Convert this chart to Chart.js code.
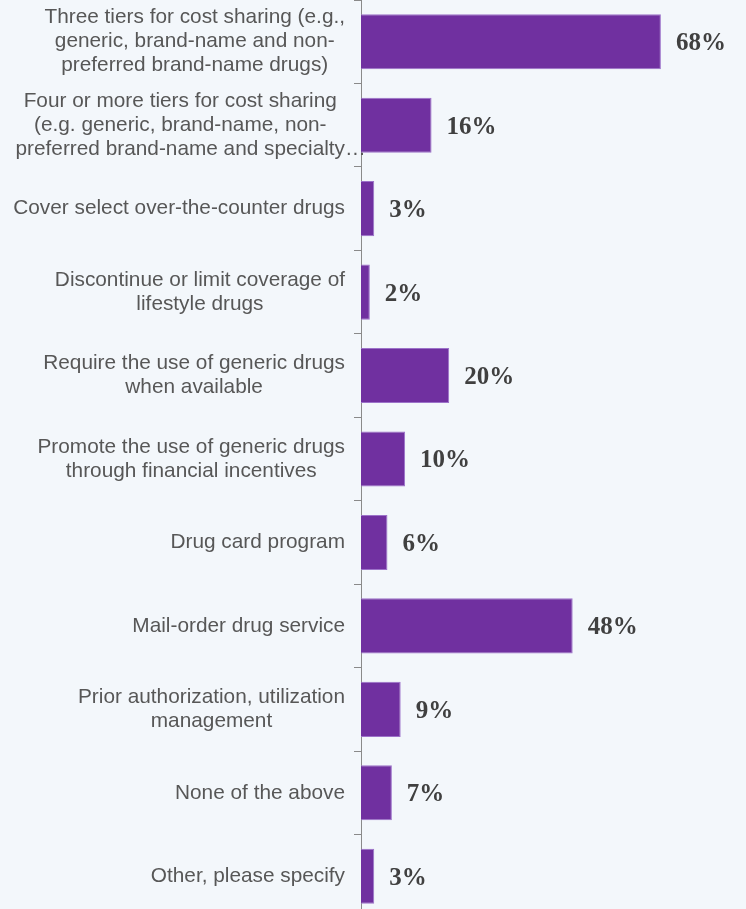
<!DOCTYPE html>
<html>
<head>
<meta charset="utf-8">
<script src="https://cdn.jsdelivr.net/npm/chart.js@4/dist/chart.umd.min.js"></script>
<style>
  html, body { margin: 0; padding: 0; background: #f3f7fb; overflow: hidden; }
  #wrap { position: relative; width: 746px; height: 918px; }
</style>
</head>
<body>
<div id="wrap"><canvas id="chart"></canvas></div>
<script>
// answer options, one array of lines per option
const categories = [
  ["Three tiers for cost sharing (e.g.,", "generic, brand-name and non-", "preferred brand-name drugs)"],
  ["Four or more tiers for cost sharing", "(e.g. generic, brand-name, non-", "preferred brand-name and specialty\u2026"],
  ["Cover select over-the-counter drugs"],
  ["Discontinue or limit coverage of", "lifestyle drugs"],
  ["Require the use of generic drugs", "when available"],
  ["Promote the use of generic drugs", "through financial incentives"],
  ["Drug card program"],
  ["Mail-order drug service"],
  ["Prior authorization, utilization", "management"],
  ["None of the above"],
  ["Other, please specify"]
];
const percents = [68, 16, 3, 2, 20, 10, 6, 48, 9, 7, 3];

const LABEL_FONT = '20.8px "Liberation Sans", Arial, sans-serif';
const LINE_H = 24;

// category labels: lines centred on each other, block right-aligned to the axis
const categoryLabels = {
  id: 'categoryLabels',
  afterDraw(chart) {
    const ctx = chart.ctx;
    const y = chart.scales.y;
    const right = y.right - 16;
    ctx.save();
    ctx.font = LABEL_FONT;
    ctx.fillStyle = '#575757';
    ctx.textBaseline = 'middle';
    categories.forEach((lines, i) => {
      const yc = y.getPixelForValue(i);
      const ell = '\u2026';
      const bare = lines.map(l => l.endsWith(ell) ? l.slice(0, -1) : l);
      const maxW = Math.max(...bare.map(l => ctx.measureText(l).width));
      const cx = right - maxW / 2;
      lines.forEach((line, j) => {
        const ly = yc + (j - (lines.length - 1) / 2) * LINE_H;
        ctx.textAlign = 'center';
        ctx.fillText(bare[j], cx, ly);
        if (line.endsWith(ell)) {
          ctx.textAlign = 'left';
          ctx.fillText(ell, cx + ctx.measureText(bare[j]).width / 2, ly);
        }
      });
    });
    ctx.restore();
  }
};

// percentage just past the end of each bar
const valueLabels = {
  id: 'valueLabels',
  afterDatasetsDraw(chart) {
    const ctx = chart.ctx;
    ctx.save();
    ctx.font = 'bold 25px "Liberation Serif", "Times New Roman", serif';
    ctx.fillStyle = '#404040';
    ctx.textAlign = 'left';
    ctx.textBaseline = 'middle';
    chart.getDatasetMeta(0).data.forEach((bar, i) => {
      ctx.fillText(percents[i] + '%', bar.x + 15, bar.y + 2);
    });
    ctx.restore();
  }
};

new Chart(document.getElementById('chart'), {
  type: 'bar',
  data: {
    labels: categories.map(c => c.join(' ')),
    datasets: [{
      data: percents,
      backgroundColor: '#7030a0',
      borderColor: '#9c72c9',
      borderWidth: 1,
      barPercentage: 0.66,
      categoryPercentage: 1
    }]
  },
  options: {
    indexAxis: 'y',
    responsive: true,
    maintainAspectRatio: false,
    animation: false,
    layout: { padding: 0 },
    plugins: {
      legend: { display: false },
      tooltip: { enabled: false }
    },
    scales: {
      x: {
        display: false,
        min: 0,
        max: 87.3
      },
      y: {
        afterFit: (scale) => { scale.width = 361; },
        ticks: { display: false },
        grid: {
          drawOnChartArea: false,
          drawTicks: true,
          tickLength: 7,
          color: '#8a8a8a'
        },
        border: { display: true, color: '#8a8a8a', width: 1 }
      }
    }
  },
  plugins: [categoryLabels, valueLabels]
});
</script>
</body>
</html>
